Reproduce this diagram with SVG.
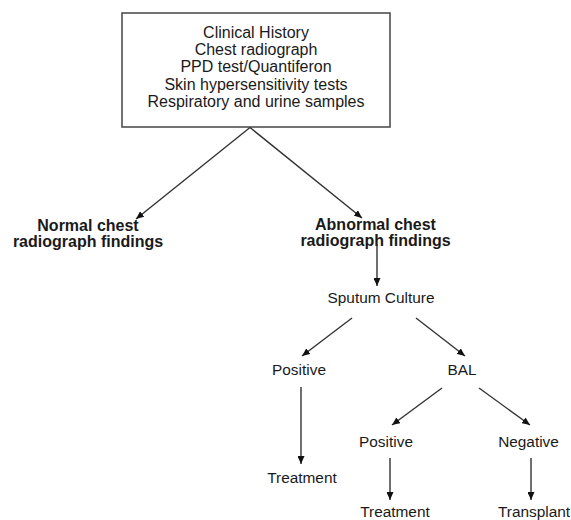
<svg xmlns="http://www.w3.org/2000/svg" width="571" height="520" viewBox="0 0 571 520">
<style>
text{font-family:"Liberation Sans",Arial,sans-serif;fill:#1a1a1a;text-anchor:middle}
.t{font-size:16px}
.r{font-size:15.4px}
.b{font-size:16px;font-weight:bold}
.box{fill:#fff;stroke:#444;stroke-width:1.5}
.c line{stroke:#333;stroke-width:1.4;marker-end:url(#ah)}
</style>
<defs>
<marker id="ah" viewBox="0 0 8 7" refX="8" refY="3.5" markerWidth="8" markerHeight="7" markerUnits="userSpaceOnUse" orient="auto">
<path d="M0,0 L8,3.5 L0,7 z" fill="#111"/>
</marker>
</defs>
<rect width="571" height="520" fill="#fff"/>
<g id="start">
<rect class="box" x="122" y="13" width="268" height="114"/>
<text class="t" x="256" y="37.5">Clinical History</text>
<text class="t" x="256" y="54.9">Chest radiograph</text>
<text class="t" x="256" y="72.3">PPD test/Quantiferon</text>
<text class="t" x="256" y="89.7">Skin hypersensitivity tests</text>
<text class="t" x="256" y="107">Respiratory and urine samples</text>
</g>
<g id="normal"><text class="b" x="88" y="231">Normal chest</text><text class="b" x="88" y="247">radiograph findings</text></g>
<g id="abnormal"><text class="b" x="375.5" y="230">Abnormal chest</text><text class="b" x="375.5" y="246">radiograph findings</text></g>
<g id="sputum"><text class="r" x="381" y="303">Sputum Culture</text></g>
<g id="positive1"><text class="r" x="299" y="375">Positive</text></g>
<g id="bal"><text class="r" x="462" y="375">BAL</text></g>
<g id="treatment1"><text class="r" x="302" y="483">Treatment</text></g>
<g id="positive2"><text class="r" x="386" y="447">Positive</text></g>
<g id="negative"><text class="r" x="528.5" y="447">Negative</text></g>
<g id="treatment2"><text class="r" x="395" y="517">Treatment</text></g>
<g id="transplant"><text class="r" x="534" y="517">Transplant</text></g>
<g id="connectors" class="c">
<line x1="250" y1="127.5" x2="136" y2="219"/>
<line x1="250" y1="127.5" x2="362" y2="218"/>
<line x1="377" y1="244" x2="377" y2="286"/>
<line x1="352" y1="318" x2="302" y2="356"/>
<line x1="416" y1="318" x2="465" y2="356"/>
<line x1="301" y1="387" x2="301" y2="464"/>
<line x1="442" y1="388" x2="392" y2="425"/>
<line x1="479" y1="388" x2="530" y2="425"/>
<line x1="390" y1="458" x2="390" y2="500"/>
<line x1="531" y1="458" x2="531" y2="500"/>
</g>
</svg>
